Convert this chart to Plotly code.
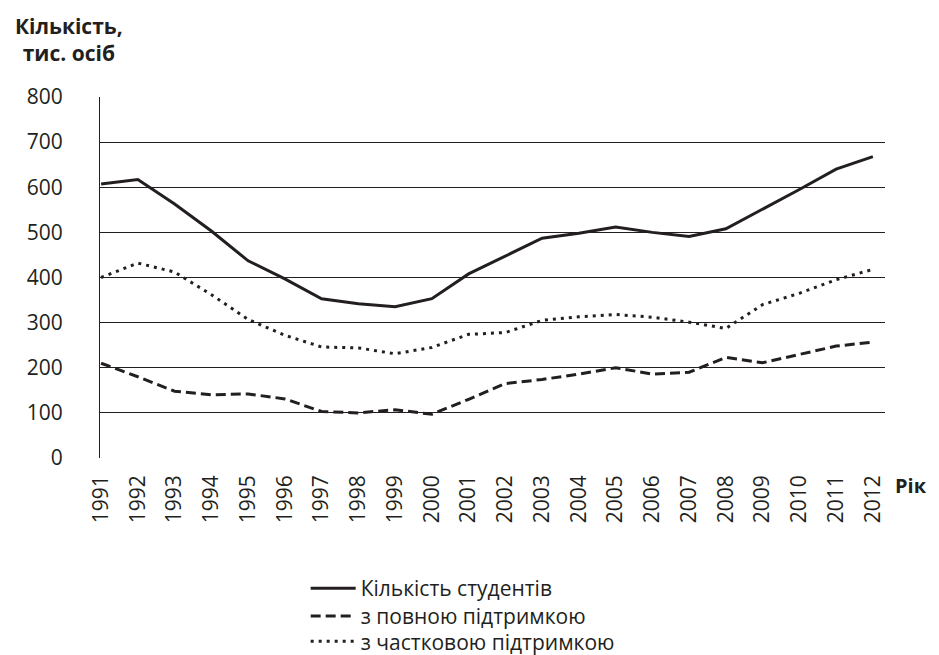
import plotly.graph_objects as go

years = list(range(1991, 2013))
students = [607, 617, 563, 503, 437, 397, 353, 342, 335, 353, 408, 447, 487, 498, 512, 500, 491, 508, 551, 595, 640, 668]
full_support = [210, 180, 148, 140, 142, 131, 103, 100, 107, 97, 130, 165, 174, 186, 200, 186, 190, 223, 211, 230, 248, 257]
partial_support = [400, 432, 412, 362, 307, 272, 246, 244, 231, 245, 274, 278, 305, 313, 318, 312, 301, 287, 340, 365, 395, 418]
yticks = [0, 100, 200, 300, 400, 500, 600, 700, 800]

FONT = "Open Sans"
INK = "#231f20"

fig = go.Figure()
fig.add_trace(go.Scatter(x=years, y=students, mode="lines", name="Кількість студентів",
                         line=dict(color=INK, width=3), legend="legend"))
fig.add_trace(go.Scatter(x=years, y=full_support, mode="lines", name="з повною підтримкою",
                         line=dict(color=INK, width=3, dash="10px,5px"), legend="legend2"))
fig.add_trace(go.Scatter(x=years, y=partial_support, mode="lines", name="з частковою підтримкою",
                         line=dict(color=INK, width=3, dash="3px,5px"), legend="legend3"))

def leg(y):
    return dict(x=0.262, y=y, xanchor="left", yanchor="top",
                font=dict(size=21, family=FONT), itemwidth=45,
                bgcolor="rgba(0,0,0,0)")

# page body adds an 8px offset; figure sized to fill the rest of the window
fig.update_layout(
    width=931, height=647,
    margin=dict(l=92, r=54, t=89, b=197, autoexpand=False),
    paper_bgcolor="white", plot_bgcolor="white",
    font=dict(family=FONT, size=21, color=INK),
    showlegend=True,
    legend=leg(-0.305), legend2=leg(-0.382), legend3=leg(-0.452),
    xaxis=dict(range=[1990.97, 2012.33], tickmode="array", tickvals=years,
               ticktext=[str(y) for y in years], tickangle=-90,
               showgrid=False, zeroline=False, showline=False, ticks="",
               ticklabelstandoff=12, automargin=False,
               tickfont=dict(size=21, family=FONT)),
    yaxis=dict(range=[0, 800], tickmode="array", tickvals=yticks,
               showgrid=True, gridcolor=INK, gridwidth=1.2,
               zeroline=False, showline=True, linecolor=INK, linewidth=1.2,
               ticks="", ticklabelstandoff=32, automargin=False,
               tickfont=dict(size=21, family=FONT)),
    annotations=[
        dict(text="<b>Кількість,<br>тис. осіб</b>", xref="paper", yref="paper",
             x=-0.040, y=1.0, xanchor="center", yanchor="bottom", yshift=28,
             showarrow=False, align="center", font=dict(size=21, family=FONT)),
        dict(text="<b>Рік</b>", xref="paper", yref="paper",
             x=1.0, y=0, xanchor="left", yanchor="top", xshift=8, yshift=-12,
             showarrow=False, font=dict(size=20, family=FONT)),
    ],
)

fig.write_html("out.html")
